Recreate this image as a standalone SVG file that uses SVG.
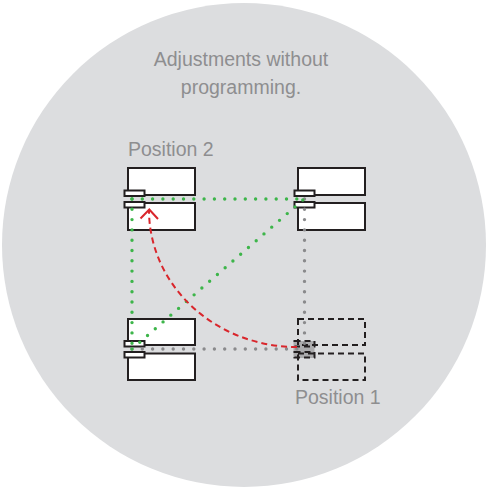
<svg xmlns="http://www.w3.org/2000/svg" width="487" height="488" viewBox="0 0 487 488">
<style>
.box{fill:#fff;stroke:#231f20;stroke-width:2}
.dash{fill:none;stroke:#231f20;stroke-width:2;stroke-dasharray:6 4}
.lbl{font-family:"Liberation Sans",Arial,sans-serif;font-size:19.5px;fill:#8e8e90}
.g{fill:none;stroke:#3db54a;stroke-width:3.4;stroke-linecap:round;stroke-dasharray:0 10.3}
.k{fill:none;stroke:#8a8a8c;stroke-width:3.4;stroke-linecap:round;stroke-dasharray:0 10.3}
.r{fill:none;stroke:#d9262c;stroke-width:2}
</style>
<circle cx="244" cy="245" r="242" fill="#dcdddf"/>
<text class="lbl" x="241" y="66" text-anchor="middle">Adjustments without</text>
<text class="lbl" x="241" y="94" text-anchor="middle">programming.</text>
<g id="pos2">
<text class="lbl" x="128" y="156">Position 2</text>
<rect class="box" x="128" y="168" width="67" height="27"/>
<rect class="box" x="128" y="203" width="67" height="27"/>
<rect class="box" x="124.5" y="190.5" width="20" height="5.5"/>
<rect class="box" x="124.5" y="202" width="20" height="5.5"/>
</g>
<g id="topright">
<rect class="box" x="298" y="168" width="67" height="27"/>
<rect class="box" x="298" y="203" width="67" height="27"/>
<rect class="box" x="294.5" y="190.5" width="20" height="5.5"/>
<rect class="box" x="294.5" y="202" width="20" height="5.5"/>
</g>
<g id="bottomleft">
<rect class="box" x="128" y="319" width="67" height="26"/>
<rect class="box" x="128" y="353.5" width="67" height="26.5"/>
<rect class="box" x="124.5" y="341" width="20" height="5.5"/>
<rect class="box" x="124.5" y="352" width="20" height="5.5"/>
</g>
<g id="pos1">
<rect x="293.5" y="341" width="21" height="17" fill="#ababad"/>
<rect class="dash" x="298" y="319" width="67" height="26"/>
<rect class="dash" x="298" y="353.5" width="67" height="26.5"/>
<rect class="dash" x="294.5" y="341" width="20" height="5.5"/>
<rect class="dash" x="294.5" y="352" width="20" height="5.5"/>
<text class="lbl" x="295" y="404">Position 1</text>
</g>
<g id="connectors">
<path class="k" d="M304.5 199 V349"/>
<path class="k" d="M132 349 H304.5"/>
<path class="g" d="M132 199 H304"/>
<path class="g" d="M132 199 V349"/>
<path class="g" d="M132 349 L304 199"/>
<path class="r" stroke-dasharray="6 4" d="M297 347 A148 137 0 0 1 149 210"/>
<path class="r" d="M140.5 218.5 L149.3 209.5 L158 219"/>
</g>
</svg>
